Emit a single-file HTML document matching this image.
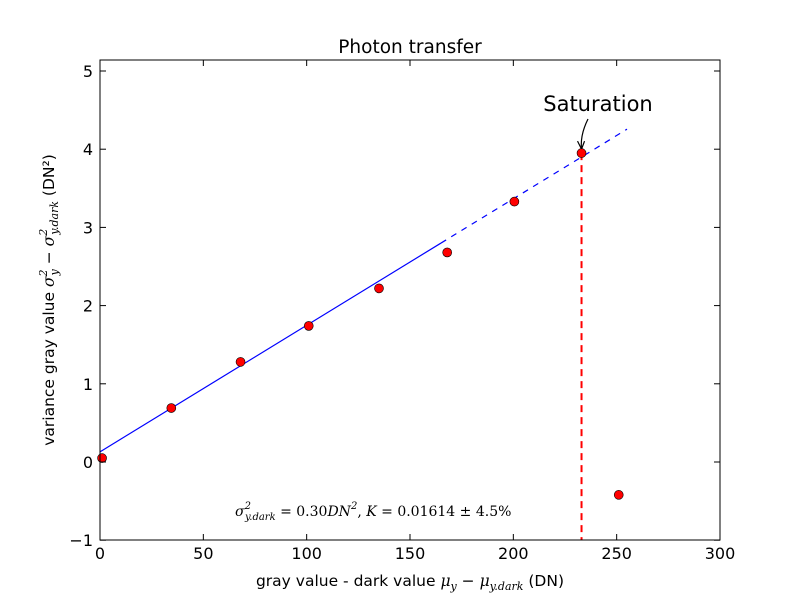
<!DOCTYPE html>
<html><head><meta charset="utf-8"><style>
body{margin:0;background:#fff}
svg{display:block;font-family:"DejaVu Sans","Liberation Sans",sans-serif}
.m{font-family:"DejaVu Serif","Liberation Serif",serif;font-style:italic}
</style></head><body>
<svg id="c" width="800" height="600">
<rect width="800" height="600" fill="#fff"/>
<text x="410" y="53" font-size="18.5" text-anchor="middle">Photon transfer</text>
<g id="plot"></g>
<rect x="100" y="60" width="620" height="480" fill="none" stroke="#000" stroke-width="1"/>
<g id="axes"></g>
<text x="410" y="586" font-size="15.5" text-anchor="middle">gray value - dark value <tspan class="m">μ</tspan><tspan class="m" font-size="11" dy="4">y</tspan><tspan dy="-4"> − </tspan><tspan class="m">μ</tspan><tspan class="m" font-size="11" dy="4">y.dark</tspan><tspan dy="-4"> (DN)</tspan></text>
<text transform="translate(54,300) rotate(-90)" font-size="15.5" text-anchor="middle">variance gray value <tspan class="m">σ</tspan><tspan class="m" font-size="11" dy="-7">2</tspan><tspan class="m" font-size="11" dx="-6" dy="11">y</tspan><tspan dy="-4"> − </tspan><tspan class="m">σ</tspan><tspan class="m" font-size="11" dy="-7">2</tspan><tspan class="m" font-size="11" dx="-6" dy="11">y.dark</tspan><tspan dy="-4"> (DN²)</tspan></text>
<text x="235" y="516" font-size="14" class="m">σ<tspan font-size="10" dy="-7">2</tspan><tspan font-size="10" dx="-6" dy="11">y.dark</tspan><tspan dy="-4" font-style="normal"> = 0.30</tspan>DN<tspan font-size="10" dy="-7">2</tspan><tspan dy="7" font-style="normal">, </tspan>K<tspan font-style="normal"> = 0.01614 ± 4.5%</tspan></text>
<text x="598" y="111" font-size="21" text-anchor="middle">Saturation</text>
</svg>
<script>
const xs=[1,34.5,68,101,135,168,200.5,233,251];
const ys=[0.05,0.69,1.28,1.74,2.22,2.68,3.33,3.95,-0.42];
const fitOffset=0.13, fitSlope=0.01618, fitSolidEnd=165, fitDashEnd=255, satX=233;
const xTicks=[0,50,100,150,200,250,300];
const yTicks=[-1,0,1,2,3,4,5];
const X=v=>100+v*620/300, Y=v=>462-v*78.2;
const NS="http://www.w3.org/2000/svg";
const plot=document.getElementById('plot'), axes=document.getElementById('axes');
function mk(p,t,a){const e=document.createElementNS(NS,t);for(const k in a)e.setAttribute(k,a[k]);p.appendChild(e);return e;}
let l=mk(plot,'line',{x1:X(0),y1:Y(fitOffset),x2:X(fitSolidEnd),y2:Y(fitOffset+fitSlope*fitSolidEnd),stroke:'#00f','stroke-width':1.2});


l=mk(plot,'line',{x1:X(fitSolidEnd),y1:Y(fitOffset+fitSlope*fitSolidEnd),x2:X(fitDashEnd),y2:Y(fitOffset+fitSlope*fitDashEnd),stroke:'#00f','stroke-width':1.2,'stroke-dasharray':'6,6'});


l=mk(plot,'line',{x1:X(satX),y1:Y(ys[7]),x2:X(satX),y2:540,stroke:'#f00','stroke-width':2,'stroke-dasharray':'7,5'});


l=mk(plot,'path',{d:`M588,119 Q580,135 ${X(satX)},${Y(ys[7])-4}`,fill:'none',stroke:'#000','stroke-width':1.2});


l=mk(plot,'path',{d:`M${X(satX)-4},${Y(ys[7])-12} L${X(satX)},${Y(ys[7])-4} L${X(satX)+3},${Y(ys[7])-12}`,fill:'none',stroke:'#000','stroke-width':1.2});


xs.forEach((x,i)=>{const c=mk(plot,'circle',{cx:X(x),cy:Y(ys[i]),r:4.5,fill:'#f00',stroke:'#000','stroke-width':0.6});

});
xTicks.forEach(t=>{const x=X(t);
mk(axes,'line',{x1:x,y1:540,x2:x,y2:534,stroke:'#000'});mk(axes,'line',{x1:x,y1:60,x2:x,y2:66,stroke:'#000'});
const e=mk(axes,'text',{x:x,y:559,'font-size':16,'text-anchor':'middle'});e.textContent=t;

});
yTicks.forEach(t=>{const y=Y(t);
mk(axes,'line',{x1:100,y1:y,x2:106,y2:y,stroke:'#000'});mk(axes,'line',{x1:720,y1:y,x2:714,y2:y,stroke:'#000'});
const e=mk(axes,'text',{x:93,y:y+6,'font-size':16,'text-anchor':'end'});e.textContent=t<0?'−'+(-t):t;

});
</script>
</body></html>
